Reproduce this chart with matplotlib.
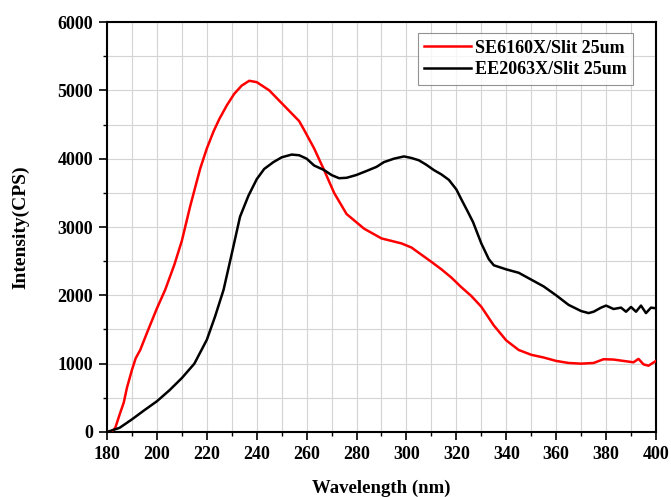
import numpy as np
import matplotlib
matplotlib.use('Agg')
import matplotlib.pyplot as plt
from matplotlib.ticker import MultipleLocator

# SE6160X / Slit 25um (red)
red_wl = [180, 182, 183.3, 185, 186.7, 188, 190, 191.5, 193.3, 196, 200, 203.3, 207, 210,
          213.3, 217.3, 220, 222.7, 225, 228, 231, 234, 237, 240, 245, 249, 253, 257,
          259, 263, 267, 271, 276, 283, 290, 298, 302, 306, 310, 314, 318, 322, 326,
          330, 335, 340, 345, 350, 355, 360, 365, 370, 375, 379, 383, 387, 391, 393,
          395, 397, 400]
red_int = [0, 10, 60, 250, 430, 650, 910, 1080, 1200, 1450, 1810, 2080, 2450, 2800,
           3300, 3850, 4150, 4400, 4580, 4780, 4950, 5070, 5140, 5120, 5000, 4850, 4700, 4550,
           4420, 4150, 3833, 3500, 3190, 2976, 2833, 2760, 2700, 2595, 2490, 2381, 2260, 2119, 1990,
           1833, 1560, 1340, 1200, 1130, 1090, 1040, 1010, 1000, 1010, 1065, 1060, 1040, 1020, 1070,
           990, 970, 1040]

# EE2063X / Slit 25um (black)
blk_wl = [180, 185, 190, 195, 200, 205, 210, 215, 220, 223.3, 226.7, 230, 233.3, 236.7,
          240, 243, 246.7, 250, 254, 257, 260, 263, 267, 270, 273, 276, 280, 284, 288,
          291, 295, 299, 302, 305, 308, 311, 314, 317, 320, 322, 324.5, 326.7, 330, 333,
          335, 340, 345, 350, 355, 360, 365, 370, 373, 375, 378, 380, 383, 386, 388,
          390, 392, 394, 396, 398, 400]
blk_int = [0, 60, 185, 320, 450, 610, 790, 1000, 1350, 1690, 2080, 2610, 3150, 3460,
           3700, 3850, 3950, 4020, 4060, 4050, 4000, 3900, 3833, 3760, 3714, 3720, 3762, 3820, 3880,
           3950, 4000, 4033, 4010, 3976, 3910, 3833, 3770, 3690, 3550, 3405, 3230, 3071, 2760, 2530,
           2440, 2380, 2330, 2230, 2130, 2000, 1860, 1770, 1740, 1760, 1820, 1850, 1800, 1820, 1760,
           1830, 1760, 1850, 1740, 1820, 1810]

plt.rcParams['font.family'] = ['Liberation Serif', 'DejaVu Serif']
plt.rcParams['font.weight'] = 'bold'

fig = plt.figure(figsize=(6.71, 4.97), dpi=100)
ax = fig.add_axes([0.1595, 0.1308, 0.8181, 0.8249])

ax.plot(red_wl, red_int, color='#ff0000', lw=1.8, label='SE6160X/Slit 25um', zorder=3)
ax.plot(blk_wl, blk_int, color='black', lw=1.8, label='EE2063X/Slit 25um', zorder=3)

ax.set_xlim(180, 400)
ax.set_ylim(0, 6000)
ax.xaxis.set_major_locator(MultipleLocator(20))
ax.xaxis.set_minor_locator(MultipleLocator(10))
ax.yaxis.set_major_locator(MultipleLocator(1000))
ax.yaxis.set_minor_locator(MultipleLocator(500))
ax.grid(which='both', color='#d4d4d4', lw=0.8, zorder=0)
ax.set_axisbelow(True)

ax.tick_params(which='major', direction='out', length=6, width=1.2, labelsize=13, pad=4)
ax.tick_params(which='minor', direction='out', length=3, width=1.0)
ax.tick_params(top=False, right=False)
for s in ax.spines.values():
    s.set_linewidth(1.5)

ax.set_xlabel('Wavelength (nm)', fontsize=13.5, fontweight='bold', labelpad=12)
ax.set_ylabel('Intensity(CPS)', fontsize=14, fontweight='bold', labelpad=20)

leg = ax.legend(loc='upper right', bbox_to_anchor=(0.958, 0.972), fontsize=13,
                handlelength=2.6, frameon=True, fancybox=False, borderpad=0.35,
                labelspacing=0.25, handletextpad=0.2, borderaxespad=0)
leg.get_frame().set_edgecolor('#777777')
leg.get_frame().set_linewidth(0.8)

fig.savefig('out.png', dpi=100)
